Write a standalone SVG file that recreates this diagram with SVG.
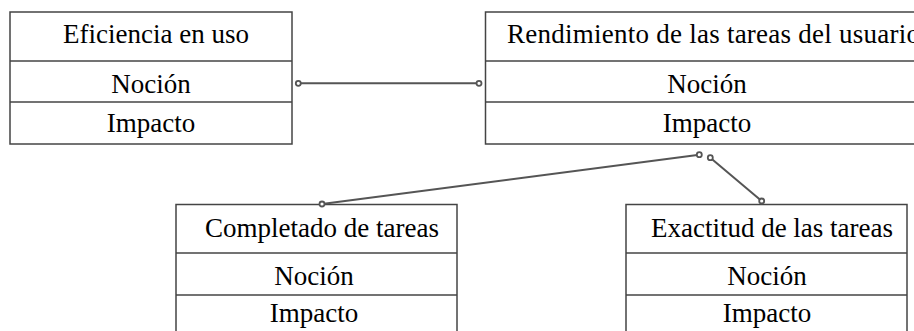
<svg xmlns="http://www.w3.org/2000/svg" width="914" height="331" viewBox="0 0 914 331">
<style>
.box{fill:#fff;stroke:#444;stroke-width:1.5}
.div{stroke:#444;stroke-width:1.5}
.t{font-family:"Liberation Serif","Times New Roman",serif;font-size:27px;fill:#000;text-anchor:middle}
.c{stroke:#555;stroke-width:2;fill:none}
.d{fill:#fff;stroke:#555;stroke-width:1.8}
</style>
<rect width="914" height="331" fill="#fff"/>
<g id="eficiencia">
<rect class="box" x="10" y="12" width="282" height="132"/>
<line class="div" x1="10" y1="61" x2="292" y2="61"/>
<line class="div" x1="10" y1="102" x2="292" y2="102"/>
<text class="t" x="156" y="43">Eficiencia en uso</text>
<text class="t" x="151" y="93">Noción</text>
<text class="t" x="151" y="132">Impacto</text>
</g>
<g id="rendimiento">
<rect class="box" x="485.5" y="12" width="444" height="132"/>
<line class="div" x1="485.5" y1="61" x2="929" y2="61"/>
<line class="div" x1="485.5" y1="102" x2="929" y2="102"/>
<text class="t" x="507" y="43" style="text-anchor:start" textLength="413">Rendimiento de las tareas del usuario</text>
<text class="t" x="707" y="93">Noción</text>
<text class="t" x="707" y="132">Impacto</text>
</g>
<g id="completado">
<rect class="box" x="176" y="204.5" width="281" height="140"/>
<line class="div" x1="176" y1="253" x2="457" y2="253"/>
<line class="div" x1="176" y1="295" x2="457" y2="295"/>
<text class="t" x="322" y="237">Completado de tareas</text>
<text class="t" x="314" y="285">Noción</text>
<text class="t" x="314" y="322">Impacto</text>
</g>
<g id="exactitud">
<rect class="box" x="626" y="204.5" width="281" height="140"/>
<line class="div" x1="626" y1="253" x2="907" y2="253"/>
<line class="div" x1="626" y1="295" x2="907" y2="295"/>
<text class="t" x="772" y="237">Exactitud de las tareas</text>
<text class="t" x="767" y="285">Noción</text>
<text class="t" x="767" y="322">Impacto</text>
</g>
<g id="connectors">
<line class="c" x1="298.3" y1="83.3" x2="479" y2="83.3"/>
<line class="c" x1="699.3" y1="154.7" x2="322" y2="204"/>
<line class="c" x1="710.3" y1="157.7" x2="761.7" y2="201"/>
<circle class="d" cx="298.3" cy="83.3" r="2.5"/>
<circle class="d" cx="479" cy="83.3" r="2.5"/>
<circle class="d" cx="699.3" cy="154.7" r="2.5"/>
<circle class="d" cx="322" cy="204" r="2.5"/>
<circle class="d" cx="710.3" cy="157.7" r="2.5"/>
<circle class="d" cx="761.7" cy="201" r="2.5"/>
</g>
</svg>
